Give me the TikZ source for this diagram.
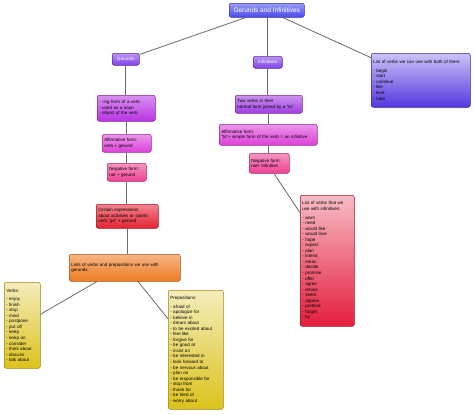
\documentclass[tikz,border=0pt]{standalone}
\usepackage{fontspec}
\setmainfont{Liberation Sans}
\definecolor{cblue}{HTML}{4A4AEE}
\definecolor{cviolet}{HTML}{8240E8}
\definecolor{cboth}{HTML}{5636E0}
\definecolor{cdesc}{HTML}{B834E4}
\definecolor{cmag}{HTML}{DC40D8}
\definecolor{cpink}{HTML}{EE4090}
\definecolor{cred}{HTML}{E42232}
\definecolor{corange}{HTML}{EE7A22}
\definecolor{cyellow}{HTML}{DCC21C}
\definecolor{ctwo}{HTML}{A03CE0}
\definecolor{cilist}{HTML}{E41E3C}
\begin{document}
\begin{tikzpicture}[x=1pt,y=-1pt,
  box/.style={inner xsep=2pt, inner ysep=1pt, anchor=north west, rounded corners=2pt,
    align=left, font=\fontsize{4.5}{5.55}\selectfont, line width=0.5pt},
  sh/.style={top color=#1!55!white, bottom color=#1, draw=#1!70!black},
  shl/.style={top color=#1!30!white, bottom color=#1, draw=#1!70!black},
  link/.style={draw=black!58, line width=0.8pt}]
\useasboundingbox[fill=white] (0,0) rectangle (474,415);

\node[box, sh=cblue, text=white, minimum width=75pt, minimum height=14pt, align=center,
  font=\fontsize{6.5}{7}\selectfont] (root) at (229,3) {Gerunds and Infinitives};
\node[box, sh=cviolet, text=white, minimum width=27pt, minimum height=12pt, align=center,
  font=\fontsize{4.6}{5.5}\selectfont] (ger) at (112,53) {Gerunds};
\node[box, sh=cviolet, text=white, minimum width=29pt, minimum height=12pt, align=center,
  font=\fontsize{4.6}{5.5}\selectfont] (inf) at (253,56) {Infinitives};
\node[box, shl=cboth, text width=95pt, minimum height=54pt] (both) at (371,53)
  {List of verbs we can use with both of them:\\[3pt]
   - begin\\ - start\\ - continue\\ - like\\ - love\\ - hate};

\node[box, sh=cdesc, text width=54pt, minimum height=26pt] (desc) at (97,95)
  {- -ing form of a verb\\ - used as a noun\\ - object of the verb};
\node[box, sh=cmag, text width=45pt, minimum height=18pt] (gaff) at (102,134)
  {Affirmative form:\\ verb + gerund};
\node[box, sh=cpink, text width=35pt, minimum height=18pt] (gneg) at (107,163)
  {Negative form:\\ not + gerund};
\node[box, sh=cred, text width=58pt, minimum height=24pt] (cert) at (96,204)
  {Certain expressions\\ about activities or sports:\\ verb "go" + gerund};
\node[box, sh=corange, text width=107pt, minimum height=27pt] (lists) at (69,254)
  {Lists of verbs and prepositions we use with\\ gerunds.};
\node[box, shl=cyellow, text width=32pt, minimum height=86pt] (verbs) at (4,282)
  {Verbs:\\[3pt] - enjoy\\ - finish\\ - stop\\ - mind\\ - postpone\\ - put off\\ - keep\\
   - keep on\\ - consider\\ - think about\\ - discuss\\ - talk about};
\node[box, shl=cyellow, text width=51pt, minimum height=119pt] (preps) at (168,290)
  {Prepositions:\\[3pt] - afraid of\\ - apologize for\\ - believe in\\ - dream about\\
   - to be excited about\\ - feel like\\ - forgive for\\ - be good at\\ - insist on\\
   - be interested in\\ - look forward to\\ - be nervous about\\ - plan on\\
   - be responsible for\\ - stop from\\ - thank for\\ - be tired of\\ - worry about};

\node[box, sh=ctwo, text width=63pt, minimum height=18pt] (two) at (235,95)
  {Two verbs in their\\ normal form joined by a "to"};
\node[box, sh=cmag, text width=94pt, minimum height=21pt] (iaff) at (219,124)
  {Affirmative form:\\ "to"+ simple form of the verb = an infinitive};
\node[box, sh=cpink, text width=36pt, minimum height=20pt] (ineg) at (249,153)
  {Negative form:\\ not+ infinitive};
\node[box, shl=cilist, text width=50pt, minimum height=131pt] (ilist) at (300,195)
  {List of verbs that we\\ use with infinitives:\\[3pt] - want\\ - need\\ - would like\\
   - would love\\ - hope\\ - expect\\ - plan\\ - intend\\ - mean\\ - decide\\ - promise\\
   - offer\\ - agree\\ - refuse\\ - seem\\ - appear\\ - pretend\\ - forget\\ - try};

\draw[link] (root) -- (ger);
\draw[link] (root.south -| inf.north) -- (inf.north);
\draw[link] (root) -- (both);
\draw[link] (ger.south) -- (ger.south |- desc.north);
\draw[link] (desc.south) -- (desc.south |- gaff.north);
\draw[link] (gaff.south) -- (gaff.south |- gneg.north);
\draw[link] (gneg.south) -- (gneg.south |- cert.north);
\draw[link] (cert.south) -- (cert.south |- lists.north);
\draw[link] ([xshift=28pt]lists.south west) -- ([yshift=11pt]verbs.east);
\draw[link] ([xshift=69pt]lists.south west) -- ([yshift=31pt]preps.west);
\draw[link] (inf.south) -- (inf.south |- two.north);
\draw[link] (two.south) -- (two.south |- iaff.north);
\draw[link] (iaff.south) -- (iaff.south |- ineg.north);
\draw[link] ([xshift=25pt]ineg.south west) -- ([yshift=48pt]ilist.west);
\end{tikzpicture}
\end{document}
